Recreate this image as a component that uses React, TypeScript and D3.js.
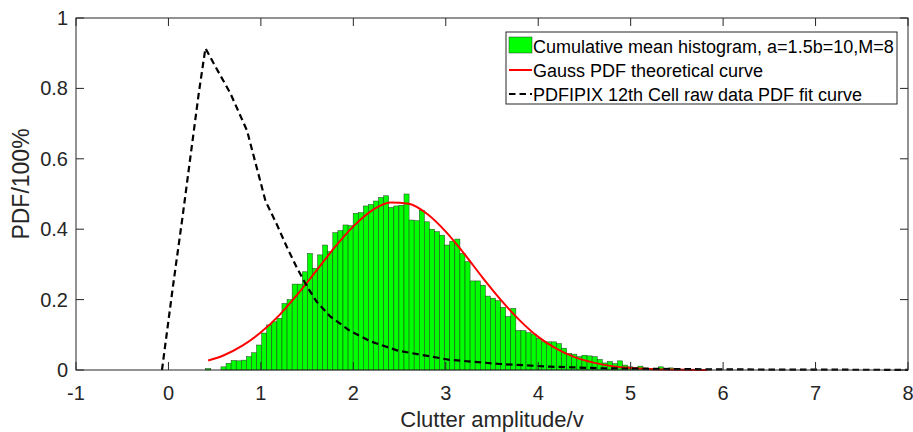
import React from 'react';
import * as d3 from 'd3';

const xTicks = [-1, 0, 1, 2, 3, 4, 5, 6, 7, 8];
const yTicks = [0, 0.2, 0.4, 0.6, 0.8, 1];
const yTickLabels = ['0', '0.2', '0.4', '0.6', '0.8', '1'];

const histStart = 0.403;
const histBinWidth = 0.055;
const histValues = [
  0.004, 0, 0, 0.009, 0.019, 0.027, 0.026, 0.028, 0.038, 0.049,
  0.071, 0.105, 0.128, 0.137, 0.147, 0.189, 0.2, 0.244, 0.244, 0.279,
  0.331, 0.289, 0.327, 0.355, 0.336, 0.39, 0.396, 0.412, 0.41, 0.445,
  0.447, 0.466, 0.47, 0.48, 0.49, 0.495, 0.462, 0.466, 0.468, 0.5,
  0.426, 0.424, 0.453, 0.421, 0.4, 0.393, 0.383, 0.355, 0.366, 0.372,
  0.331, 0.308, 0.253, 0.253, 0.241, 0.21, 0.204, 0.197, 0.178, 0.152,
  0.175, 0.112, 0.112, 0.106, 0.102, 0.09, 0.08, 0.08, 0.08, 0.075,
  0.062, 0.047, 0.045, 0.038, 0.042, 0.04, 0.038, 0.03, 0.02, 0.024,
  0.018, 0.026, 0.014, 0.009, 0.007, 0.011, 0.006, 0.005, 0.004, 0.009,
  0.004, 0.006, 0.003, 0.002, 0.002, 0.002, 0.001, 0.001, 0.001,
];

const gaussX = [0.43, 0.6, 0.8, 1.0, 1.2, 1.4, 1.6, 1.8, 2.0, 2.2, 2.4, 2.6, 2.8, 3.0, 3.2, 3.4, 3.6, 3.8, 4.0, 4.2, 4.4, 4.6, 4.8, 5.0, 5.2, 5.4, 5.6, 5.83];
const gaussY = [0.027, 0.042, 0.069, 0.107, 0.156, 0.216, 0.282, 0.349, 0.408, 0.453, 0.476, 0.472, 0.443, 0.393, 0.33, 0.262, 0.198, 0.141, 0.094, 0.06, 0.036, 0.021, 0.011, 0.0057, 0.0027, 0.0012, 0.0005, 0.0002];

const fitX = [-0.07, 0.05, 0.15, 0.25, 0.33, 0.4, 0.54, 0.67, 0.85, 0.99, 1.05, 1.17, 1.28, 1.39, 1.5, 1.6, 1.75, 1.96, 2.18, 2.48, 3.04, 3.59, 4.13, 4.67, 5.5, 6.5, 8];
const fitY = [0, 0.24, 0.43, 0.63, 0.79, 0.914, 0.847, 0.786, 0.68, 0.54, 0.48, 0.415, 0.35, 0.29, 0.237, 0.195, 0.152, 0.112, 0.082, 0.055, 0.029, 0.017, 0.0095, 0.005, 0.0025, 0.0012, 0.0005];

const legendLabels = [
  'Cumulative mean histogram, a=1.5b=10,M=8',
  'Gauss PDF theoretical curve',
  'PDFIPIX 12th Cell raw data PDF fit curve',
];

const xLabel = 'Clutter amplitude/v';
const yLabel = 'PDF/100%';

const W = 913;
const H = 432;
const L = 76;
const R = 908;
const T = 18;
const B = 370;
const axisColor = '#262626';
const font = '"Liberation Sans", Arial, Helvetica, sans-serif';

export default function App() {
  const x = d3.scaleLinear().domain([-1, 8]).range([L, R]);
  const y = d3.scaleLinear().domain([0, 1]).range([B, T]);

  const gaussLine = d3
    .line<number>()
    .x((_, i) => x(gaussX[i]))
    .y((d) => y(d))
    .curve(d3.curveMonotoneX)(gaussY) as string;

  const fitLine = d3
    .line<number>()
    .x((_, i) => x(fitX[i]))
    .y((d) => y(d))
    .curve(d3.curveLinear)(fitY) as string;

  const tickLen = 8;

  const legX = 506;
  const legY = 32;
  const legW = 391;
  const legH = 72;
  const rowY = [46, 70, 94];

  return (
    <svg
      width={W}
      height={H}
      style={{ position: 'absolute', left: 0, top: 0, background: '#fff' }}
      fontFamily={font}
    >
      <rect x={0} y={0} width={W} height={H} fill="#fff" />
      <g>
        {histValues.map((v, i) => {
          if (v <= 0) return null;
          const x0 = histStart + i * histBinWidth;
          const x1 = x0 + histBinWidth;
          return (
            <rect
              key={i}
              x={x(x0)}
              y={y(v)}
              width={x(x1) - x(x0)}
              height={y(0) - y(v)}
              fill="#00ff00"
              stroke="#1e3d1e"
              strokeWidth={0.5}
            />
          );
        })}
      </g>
      <path d={gaussLine} fill="none" stroke="#ff0000" strokeWidth={2} />
      <path d={fitLine} fill="none" stroke="#000" strokeWidth={2.2} strokeDasharray="6.5 4" />

      <rect x={L} y={T} width={R - L} height={B - T} fill="none" stroke={axisColor} strokeWidth={1} />
      {xTicks.map((t) => (
        <g key={'x' + t}>
          <line x1={x(t)} x2={x(t)} y1={B} y2={B - tickLen} stroke={axisColor} />
          <line x1={x(t)} x2={x(t)} y1={T} y2={T + tickLen} stroke={axisColor} />
          <text x={x(t)} y={400} textAnchor="middle" fontSize={20} fill={axisColor}>
            {String(t)}
          </text>
        </g>
      ))}
      {yTicks.map((t, i) => (
        <g key={'y' + t}>
          <line x1={L} x2={L + tickLen} y1={y(t)} y2={y(t)} stroke={axisColor} />
          <line x1={R} x2={R - tickLen} y1={y(t)} y2={y(t)} stroke={axisColor} />
          <text x={68} y={y(t) + 7} textAnchor="end" fontSize={20} fill={axisColor}>
            {yTickLabels[i]}
          </text>
        </g>
      ))}
      <text x={492} y={427} textAnchor="middle" fontSize={22} fill={axisColor}>
        {xLabel}
      </text>
      <text
        transform={`translate(29,184) rotate(-90)`}
        textAnchor="middle"
        fontSize={23}
        fill={axisColor}
      >
        {yLabel}
      </text>

      <rect x={legX} y={legY} width={legW} height={legH} fill="#fff" stroke={axisColor} strokeWidth={1} />
      <rect x={509} y={37} width={23} height={16} fill="#00ff00" stroke="#1e3d1e" strokeWidth={0.5} />
      <line x1={509} x2={532} y1={rowY[1]} y2={rowY[1]} stroke="#ff0000" strokeWidth={2} />
      <line x1={509} x2={532} y1={rowY[2]} y2={rowY[2]} stroke="#000" strokeWidth={2.2} strokeDasharray="6.5 4" />
      {legendLabels.map((s, i) => (
        <text key={s} x={533} y={rowY[i] + 6.5} fontSize={18} fill="#000">
          {s}
        </text>
      ))}
    </svg>
  );
}
